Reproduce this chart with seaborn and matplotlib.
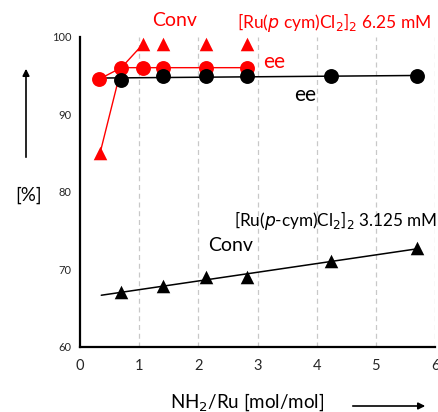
import numpy as np
import pandas as pd
import matplotlib
matplotlib.use("Agg")
import matplotlib.pyplot as plt
import seaborn as sns

# ---- data ----
ratio_red_ee = [0.32, 0.70, 1.06, 1.41, 2.13, 2.82]
ee_red = [94.5, 96.0, 96.0, 96.0, 96.0, 96.0]

ratio_red_conv_line = [0.34, 0.70, 1.06]
conv_red_line = [85.0, 96.0, 99.0]
ratio_red_conv = [0.34, 1.06, 1.41, 2.13, 2.82]
conv_red = [85.0, 99.0, 99.0, 99.0, 99.0]

ratio_black = [0.70, 1.41, 2.13, 2.82, 4.25, 5.70]
ee_black = [94.4, 94.9, 94.9, 94.9, 94.9, 94.9]
conv_black = [67.0, 67.8, 69.0, 69.0, 71.0, 72.7]
trend_range = [0.36, 5.70]

xticks = [0, 1, 2, 3, 4, 5, 6]
yticks = [60, 70, 80, 90, 100]

sns.set_style("white")
plt.rcParams['font.family'] = ['Lato', 'DejaVu Sans']

fig = plt.figure(figsize=(4.38, 4.12), dpi=100)
ax = fig.add_axes([0.1826, 0.1585, 0.8106, 0.7525])

red = "#ff0000"

# grid
for gx in xticks[1:]:
    ax.axvline(gx, color="#c8c8c8", lw=0.9, ls=(0, (4, 3)), zorder=0)

# black trend lines
tx = np.array(trend_range)
p_ee = np.polyfit(ratio_black, ee_black, 1)
p_cv = np.polyfit(ratio_black, conv_black, 1)
ax.plot(tx, np.polyval(p_ee, tx), color="black", lw=1.1, zorder=2)
ax.plot(tx, np.polyval(p_cv, tx), color="black", lw=1.1, zorder=2)

# red lines
ax.plot(ratio_red_conv_line, conv_red_line, color=red, lw=1.0, zorder=2)
ax.plot(ratio_red_ee, ee_red, color=red, lw=1.0, zorder=2)

# markers
sns.scatterplot(x=ratio_black, y=ee_black, ax=ax, marker="o", s=115, color="black",
                edgecolor="black", linewidth=0, zorder=4, clip_on=False)
sns.scatterplot(x=ratio_black, y=conv_black, ax=ax, marker="^", s=95, color="black",
                edgecolor="black", linewidth=0, zorder=4, clip_on=False)
sns.scatterplot(x=ratio_red_ee, y=ee_red, ax=ax, marker="o", s=115, color=red,
                edgecolor=red, linewidth=0, zorder=3, clip_on=False)
sns.scatterplot(x=ratio_red_conv, y=conv_red, ax=ax, marker="^", s=95, color=red,
                edgecolor=red, linewidth=0, zorder=3, clip_on=False)

ax.set_xlim(0, 6)
ax.set_ylim(60, 100)
ax.set_xticks(xticks)
ax.set_yticks(yticks)
ax.set_xticklabels([str(v) for v in xticks], fontsize=10.5)
ax.set_yticklabels([str(v) for v in yticks], fontsize=8)
for s in ["top", "right"]:
    ax.spines[s].set_visible(False)
for s in ["left", "bottom"]:
    ax.spines[s].set_linewidth(1.6)
    ax.spines[s].set_color("black")
ax.tick_params(axis="both", direction="out", length=3, width=1.6, color="black")
ax.tick_params(axis="x", pad=6)
ax.tick_params(axis="y", pad=3)
ax.set_xlabel("")
ax.set_ylabel("")

# annotations
fig.text(175/438, 1 - 21/412, "Conv", color=red, fontsize=14, ha="center", va="center")
fig.text(334/438, 1 - 22/412, r"[Ru($\it{p}$ cym)Cl$_2$]$_2$ 6.25 mM", color=red,
         fontsize=12.5, ha="center", va="center")
fig.text(274/438, 1 - 62/412, "ee", color=red, fontsize=15, ha="center", va="center")
fig.text(305/438, 1 - 95/412, "ee", color="black", fontsize=15, ha="center", va="center")
fig.text(336/438, 1 - 220/412, r"[Ru($\it{p}$-cym)Cl$_2$]$_2$ 3.125 mM", color="black",
         fontsize=12.3, ha="center", va="center")
fig.text(231/438, 1 - 246/412, "Conv", color="black", fontsize=14, ha="center", va="center")
fig.text(29/438, 1 - 195/412, "[%]", color="black", fontsize=13.5, ha="center", va="center")
fig.text(247/438, 1 - 402/412, r"NH$_2$/Ru [mol/mol]", color="black", fontsize=13.5,
         ha="center", va="center")

fig.patches.append(matplotlib.patches.FancyArrowPatch(
    (26/438, 1 - 160/412), (26/438, 1 - 66/412), transform=fig.transFigure,
    arrowstyle="-|>", mutation_scale=10, color="black", lw=1.2))
fig.patches.append(matplotlib.patches.FancyArrowPatch(
    (350/438, 1 - 406/412), (428/438, 1 - 406/412), transform=fig.transFigure,
    arrowstyle="-|>", mutation_scale=10, color="black", lw=1.2))

fig.savefig("out.png", dpi=100)
